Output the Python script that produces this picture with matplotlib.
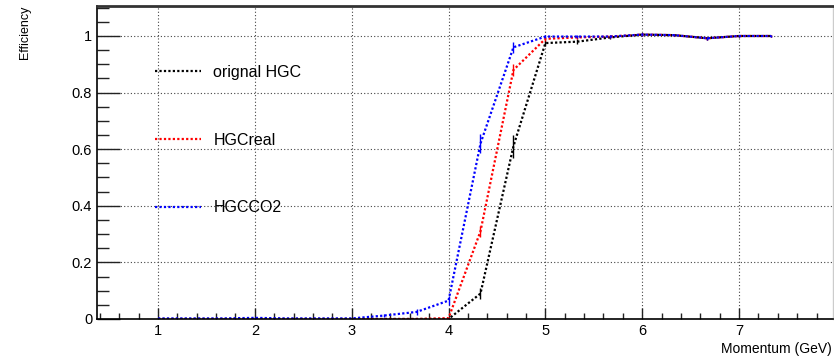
import matplotlib
matplotlib.use("Agg")
import matplotlib.pyplot as plt
from matplotlib.ticker import MultipleLocator

plt.rcParams["font.family"] = ["Liberation Sans", "DejaVu Sans"]

# momentum points (GeV)
momentum = [1.0, 1.33, 1.67, 2.0, 2.33, 2.67, 3.0, 3.33, 3.67, 4.0,
            4.33, 4.67, 5.0, 5.33, 5.67, 6.0, 6.33, 6.67, 7.0, 7.33]

eff_orig = [0.0, 0.0, 0.0, 0.0, 0.0, 0.0, 0.0, 0.0, 0.0, 0.0,
            0.09, 0.61, 0.975, 0.98, 0.995, 1.005, 1.003, 0.992, 1.0, 1.0]
err_orig = [0.0] * 9 + [0.005, 0.02, 0.04, 0.01, 0.01, 0.005, 0.004, 0.004, 0.005, 0.004, 0.004]

eff_real = [0.0, 0.0, 0.0, 0.0, 0.0, 0.0, 0.0, 0.0, 0.0, 0.003,
            0.31, 0.88, 0.99, 0.995, 0.998, 1.005, 1.003, 0.992, 1.0, 1.0]
err_real = [0.0] * 9 + [0.003, 0.02, 0.02, 0.008, 0.005, 0.004, 0.004, 0.004, 0.005, 0.004, 0.004]

eff_co2 = [0.002, 0.002, 0.002, 0.004, 0.002, 0.002, 0.002, 0.012, 0.025, 0.065,
           0.62, 0.96, 0.998, 0.998, 0.998, 1.005, 1.003, 0.992, 1.0, 1.0]
err_co2 = [0.002, 0.002, 0.002, 0.004, 0.002, 0.002, 0.002, 0.006, 0.01, 0.015,
           0.035, 0.02, 0.006, 0.004, 0.004, 0.004, 0.004, 0.005, 0.004, 0.004]

series = [
    ("orignal HGC", eff_orig, err_orig, "black"),
    ("HGCreal", eff_real, err_real, "#ff0000"),
    ("HGCCO2", eff_co2, err_co2, "#0000ff"),
]

fig = plt.figure(figsize=(8.34, 3.61), dpi=100)
ax = fig.add_axes([97 / 834, 42 / 361, 736 / 834, 313 / 361])

handles = []
for label, y, e, c in series:
    ax.errorbar(momentum, y, yerr=e, fmt="none", ecolor=c, elinewidth=1.0, capsize=0)
    (ln,) = ax.plot(momentum, y, color=c, lw=1.6, ls=(0, (1, 1)), label=label)
    handles.append(ln)

ax.set_xlim(0.37, 7.97)
ax.set_ylim(0, 1.106)
ax.xaxis.set_minor_locator(MultipleLocator(0.2))
ax.yaxis.set_minor_locator(MultipleLocator(0.05))
ax.set_yticks([0, 0.2, 0.4, 0.6, 0.8, 1.0])
ax.set_yticklabels(["0", "0.2", "0.4", "0.6", "0.8", "1"])
ax.set_xticks(range(1, 8))

ax.tick_params(axis="both", which="both", direction="in", labelsize=10.5, width=1.0, color="#222")
ax.tick_params(axis="y", which="major", length=16.5, pad=3.5)
ax.tick_params(axis="y", which="minor", length=8.5)
ax.tick_params(axis="x", which="major", length=8, pad=3.5)
ax.tick_params(axis="x", which="minor", length=4.3)

ax.grid(True, which="major", color="#444", ls=(0, (1, 2)), lw=0.8)
ax.set_axisbelow(True)

ax.spines["left"].set_linewidth(1.2)
ax.spines["bottom"].set_linewidth(1.2)
ax.spines["top"].set_color("#333")
ax.spines["top"].set_linewidth(2.0)
ax.spines["right"].set_color("#ccc")
ax.spines["right"].set_linewidth(1.0)

fig.text(25 / 834, 1 - 6 / 361, "Efficiency", rotation=90, ha="center", va="top", fontsize=9)
fig.text(832 / 834, 1 - 349 / 361, "Momentum (GeV)", ha="right", va="center", fontsize=10)

ax.legend(handles=handles, loc="upper left", bbox_to_anchor=(155 / 834, 1 - 65 / 361),
          bbox_transform=fig.transFigure, frameon=False, fontsize=11.5,
          handlelength=2.9, handletextpad=0.75, labelspacing=3.3,
          borderpad=0, borderaxespad=0)

fig.savefig("out.png", dpi=100)
